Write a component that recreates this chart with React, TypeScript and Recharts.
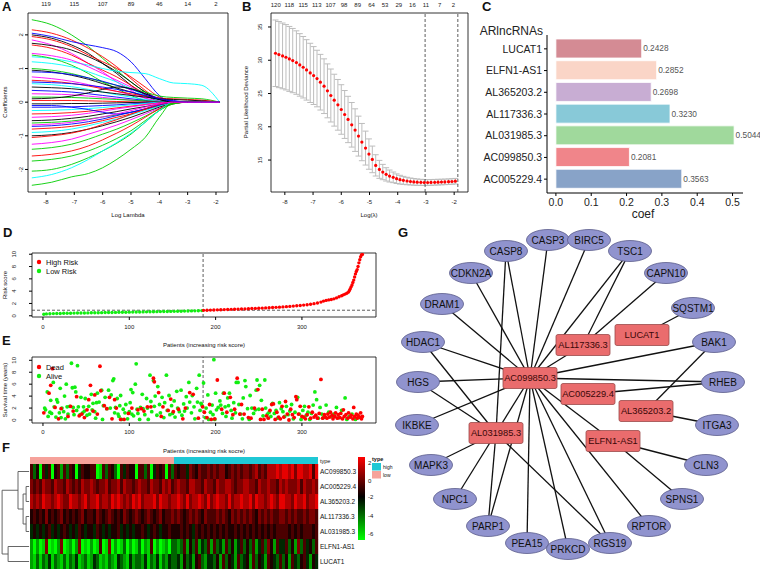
import React from 'react';
import {
  LineChart,
  Line,
  XAxis,
  YAxis,
  ReferenceArea,
  ReferenceLine,
  ScatterChart,
  Scatter,
  ErrorBar,
  BarChart,
  Bar,
  Cell,
  LabelList,
} from 'recharts';

const FONT = '"Liberation Sans", Arial, sans-serif';
const TICK = { fontSize: 6, fill: '#222', fontFamily: FONT };

// ---------- A: lasso coefficient paths ----------
const lassoLogLambda = [-8.5, -7.8, -7.1, -6.5, -6.0, -5.5, -5.0, -4.5, -4.0, -3.5, -3.0, -2.5, -1.87];
// trailing zeros left out (coefficient already shrunk to 0)
const lassoPaths: number[][] = [
  [2.45, 2.3, 2.0, 1.65, 1.3, 0.95, 0.6, 0.3, 0.05],
  [2.15, 2.05, 1.85, 1.6, 1.35, 1.05, 0.7, 0.35, 0.08],
  [2.05, 1.95, 1.8, 1.7, 1.62, 1.5, 1.2, 0.7, 0.2],
  [2.0, 1.9, 1.7, 1.45, 1.15, 0.85, 0.5, 0.22, 0.03],
  [1.95, 1.85, 1.65, 1.4, 1.2, 1.0, 0.75, 0.45, 0.15, 0.02],
  [1.85, 1.7, 1.45, 1.15, 0.9, 0.6, 0.35, 0.12],
  [1.75, 1.68, 1.55, 1.35, 1.15, 0.9, 0.6, 0.3, 0.08],
  [1.7, 1.6, 1.4, 1.15, 0.95, 0.75, 0.5, 0.25, 0.05],
  [1.35, 1.3, 1.2, 1.1, 1.0, 0.92, 0.88, 0.85, 0.7, 0.57, 0.55, 0.5, 0],
  [1.4, 1.3, 1.1, 0.85, 0.6, 0.4, 0.2, 0.05],
  [1.45, 1.38, 1.25, 1.05, 0.85, 0.65, 0.45, 0.25, 0.1, 0.02],
  [1.2, 1.15, 1.05, 0.9, 0.75, 0.6, 0.4, 0.2, 0.05],
  [1.0, 0.95, 0.85, 0.72, 0.6, 0.5, 0.4, 0.3, 0.18, 0.14, 0.12, 0.1, 0],
  [0.95, 0.9, 0.8, 0.68, 0.55, 0.42, 0.3, 0.18, 0.08, 0.02],
  [0.9, 0.88, 0.82, 0.72, 0.62, 0.5, 0.38, 0.25, 0.12, 0.05],
  [0.75, 0.7, 0.62, 0.52, 0.42, 0.32, 0.22, 0.12, 0.03],
  [0.65, 0.62, 0.56, 0.48, 0.4, 0.32, 0.25, 0.18, 0.12, 0.1, 0.08, 0.06, 0],
  [0.55, 0.52, 0.46, 0.38, 0.3, 0.22, 0.15, 0.08, 0.02],
  [0.45, 0.43, 0.4, 0.35, 0.3, 0.25, 0.2, 0.15, 0.1, 0.08, 0.06, 0.04, 0],
  [0.35, 0.33, 0.3, 0.25, 0.2, 0.15, 0.1, 0.05],
  [0.25, 0.24, 0.22, 0.18, 0.14, 0.1, 0.06, 0.03],
  [0.15, 0.15, 0.14, 0.12, 0.1, 0.08, 0.06, 0.04, 0.02],
  [0.05, 0.05, 0.05, 0.04, 0.03, 0.02, 0.01],
  [-0.05, -0.05, -0.04, -0.04, -0.03, -0.02, -0.01],
  [-0.15, -0.15, -0.14, -0.12, -0.1, -0.08, -0.05, -0.03],
  [-0.25, -0.24, -0.22, -0.19, -0.16, -0.12, -0.08, -0.04],
  [-0.35, -0.34, -0.31, -0.27, -0.22, -0.17, -0.12, -0.07, -0.02],
  [-0.45, -0.43, -0.39, -0.33, -0.27, -0.2, -0.14, -0.08, -0.03],
  [-0.55, -0.53, -0.48, -0.42, -0.35, -0.28, -0.2, -0.13, -0.06],
  [-0.62, -0.6, -0.56, -0.5, -0.44, -0.38, -0.3, -0.22, -0.12, -0.05],
  [-0.72, -0.7, -0.65, -0.58, -0.5, -0.4, -0.3, -0.2, -0.1, -0.02],
  [-0.8, -0.77, -0.72, -0.64, -0.55, -0.45, -0.35, -0.22, -0.1],
  [-0.9, -0.87, -0.8, -0.7, -0.6, -0.5, -0.38, -0.25, -0.12, -0.03],
  [-1.0, -0.97, -0.9, -0.8, -0.7, -0.58, -0.45, -0.3, -0.15, -0.04],
  [-1.25, -1.2, -1.1, -0.95, -0.82, -0.68, -0.52, -0.35, -0.18, -0.05],
  [-1.4, -1.35, -1.25, -1.1, -0.95, -0.8, -0.62, -0.42, -0.2, -0.05],
  [-1.6, -1.55, -1.45, -1.3, -1.12, -0.92, -0.7, -0.45, -0.2, -0.03],
  [-1.75, -1.7, -1.6, -1.45, -1.28, -1.08, -0.85, -0.55, -0.25, -0.05],
  [-2.05, -2.0, -1.85, -1.65, -1.45, -1.22, -0.95, -0.6, -0.25, -0.03],
  [-2.25, -2.15, -1.95, -1.7, -1.45, -1.2, -0.92, -0.6, -0.25],
  [-2.47, -2.38, -2.22, -2.12, -1.95, -1.7, -1.4, -1.05, -0.45],
  [-0.1, -0.1, -0.15, -0.22, -0.3, -0.35, -0.3, -0.2, -0.08],
  [0.1, 0.12, 0.18, 0.28, 0.38, 0.45, 0.4, 0.25, 0.08],
  [-1.05, -1.0, -0.92, -0.8, -0.66, -0.52, -0.36, -0.2, -0.06],
  [0.6, 0.58, 0.55, 0.5, 0.45, 0.38, 0.3, 0.2, 0.1, 0.03],
  [-0.68, -0.65, -0.6, -0.52, -0.44, -0.35, -0.25, -0.15, -0.05],
];
const lassoColors = [
  '#00CD00', '#FF0000', '#0000FF', '#000000', '#FF0000', '#FF00FF', '#000000', '#FF0000',
  '#00FFFF', '#00CD00', '#FF00FF', '#00FFFF', '#00CD00', '#000000', '#0000FF', '#FF00FF',
  '#FF0000', '#00FFFF', '#000000', '#0000FF', '#FF00FF', '#00CD00', '#FF0000', '#000000',
  '#0000FF', '#00FFFF', '#FF0000', '#FF00FF', '#000000', '#00CD00', '#0000FF', '#FF0000',
  '#00FFFF', '#000000', '#FF00FF', '#00CD00', '#FF0000', '#00CD00', '#00CD00', '#00FFFF',
  '#00CD00', '#0000FF', '#000000', '#FF0000', '#0000FF', '#FF00FF',
];
const lassoTicks = [-8, -7, -6, -5, -4, -3, -2];
const lassoTopLabels = ['119', '115', '107', '89', '46', '14', '2'];

// ---------- B: cross-validation curve ----------
const cvLogLambda = [
  -8.33, -8.21, -8.08, -7.96, -7.84, -7.72, -7.59, -7.47, -7.35, -7.23, -7.1, -6.98, -6.86, -6.74,
  -6.61, -6.49, -6.37, -6.25, -6.12, -6.0, -5.88, -5.76, -5.63, -5.51, -5.39, -5.27, -5.14, -5.02,
  -4.9, -4.78, -4.65, -4.53, -4.41, -4.29, -4.16, -4.04, -3.92, -3.8, -3.67, -3.55, -3.43, -3.31,
  -3.18, -3.06, -2.94, -2.82, -2.69, -2.57, -2.45, -2.33, -2.2, -2.08, -1.96,
];
const cvDeviance = [
  31.05, 30.85, 30.65, 30.45, 30.2, 29.95, 29.65, 29.3, 28.95, 28.55, 28.1, 27.7, 27.25, 26.7,
  26.1, 25.4, 24.7, 24.0, 23.3, 22.6, 21.85, 21.1, 20.3, 19.5, 18.6, 17.7, 16.8, 15.9,
  15.1, 14.2, 13.6, 13.2, 12.85, 12.6, 12.4, 12.2, 12.05, 11.95, 11.85, 11.78, 11.72, 11.68,
  11.65, 11.63, 11.63, 11.64, 11.66, 11.68, 11.7, 11.72, 11.75, 11.78, 11.82,
];
const cvError = [
  5.0, 4.97, 4.94, 4.91, 4.88, 4.83, 4.77, 4.7, 4.62, 4.54, 4.45, 4.35, 4.25, 4.18,
  4.11, 4.05, 3.98, 3.9, 3.81, 3.72, 3.6, 3.48, 3.35, 3.2, 3.0, 2.8, 2.55, 2.28,
  2.0, 1.6, 1.35, 1.15, 1.0, 0.9, 0.8, 0.72, 0.66, 0.6, 0.56, 0.52, 0.5, 0.48,
  0.46, 0.45, 0.44, 0.44, 0.43, 0.43, 0.42, 0.42, 0.42, 0.42, 0.42,
];
const cvTopTicks = [-8.32, -7.84, -7.35, -6.87, -6.38, -5.9, -5.42, -4.93, -4.45, -3.96, -3.48, -3.0, -2.51, -2.03];
const cvTopLabels = ['120', '118', '115', '113', '107', '98', '89', '64', '53', '29', '16', '11', '7', '2'];
const cvLambdaMin = -3.03;
const cvLambda1se = -1.87;

// ---------- C: coefficients ----------
const coefNames = ['LUCAT1', 'ELFN1-AS1', 'AL365203.2', 'AL117336.3', 'AL031985.3', 'AC099850.3', 'AC005229.4'];
const coefValues = [0.2428, 0.2852, 0.2698, 0.323, 0.5044, 0.2081, 0.3563];
const coefColors = ['#D48B94', '#FAD5C7', '#C8ADD3', '#88C9D8', '#A0D99C', '#F0858A', '#88A3C8'];

// ---------- D: risk score ----------
const riskLow: [number, number][] = [
  [1, 0.25], [4, 0.3], [8, 0.33], [12, 0.35], [16, 0.37], [20, 0.38], [24, 0.4], [28, 0.41],
  [32, 0.42], [36, 0.43], [40, 0.44], [44, 0.45], [48, 0.46], [52, 0.47], [56, 0.48], [60, 0.49],
  [64, 0.5], [68, 0.51], [72, 0.52], [76, 0.53], [80, 0.54], [84, 0.55], [88, 0.56], [92, 0.57],
  [96, 0.58], [100, 0.59], [104, 0.6], [108, 0.61], [112, 0.62], [116, 0.63], [120, 0.64], [124, 0.65],
  [128, 0.66], [132, 0.67], [136, 0.68], [140, 0.69], [144, 0.7], [148, 0.71], [152, 0.72], [156, 0.73],
  [160, 0.74], [164, 0.76], [168, 0.77], [172, 0.79], [176, 0.8], [180, 0.82], [184, 0.84],
];
const riskHigh: [number, number][] = [
  [186, 0.88], [190, 0.9], [194, 0.92], [198, 0.94], [202, 0.96], [206, 0.98], [210, 1.0], [214, 1.02],
  [218, 1.04], [222, 1.06], [226, 1.08], [230, 1.1], [234, 1.12], [238, 1.15], [242, 1.17], [246, 1.2],
  [250, 1.22], [254, 1.25], [258, 1.28], [262, 1.31], [266, 1.34], [270, 1.37], [274, 1.4], [278, 1.44],
  [282, 1.48], [286, 1.52], [290, 1.57], [294, 1.62], [298, 1.67], [302, 1.73], [306, 1.8], [310, 1.88],
  [314, 1.97], [318, 2.08], [322, 2.22], [325, 2.38], [328, 2.5], [331, 2.58], [334, 2.65], [337, 2.75],
  [340, 2.9], [343, 3.08], [346, 3.25], [348, 3.4], [350, 3.52], [352, 3.65], [354, 3.85], [355, 4.1],
  [356, 4.4], [357, 4.7], [358, 5.0], [359, 5.4], [360, 5.8], [361, 6.3], [362, 6.8], [363, 7.2],
  [364, 7.5], [365, 8.0], [366, 8.6], [367, 9.1], [368, 9.6], [369, 9.9], [370, 9.95],
];
const riskCut = 185.5;
const riskCutScore = 0.9;

// ---------- E: survival status ----------
const alivePoints: [number, number][] = [
  [2, 2.0], [3, 1.7], [5, 4.7], [6, 0.6], [8, 1.3], [9, 3.3], [10, 1.1], [12, 6.3], [13, 2.2], [15, 0.5],
  [16, 3.4], [17, 3.0], [19, 1.2], [20, 5.3], [21, 0.4], [22, 2.0], [24, 1.4], [25, 4.0], [26, 0.2], [27, 6.0],
  [28, 2.2], [29, 1.0], [31, 2.3], [33, 9.5], [34, 5.4], [35, 2.1], [36, 0.9], [37, 5.5], [38, 4.7], [39, 1.6],
  [40, 9.1], [41, 2.2], [43, 0.9], [44, 3.8], [46, 1.2], [47, 2.2], [48, 1.5], [49, 3.6], [51, 0.8], [53, 2.3],
  [54, 1.0], [56, 4.3], [57, 1.7], [58, 2.8], [60, 1.4], [61, 0.3], [62, 2.9], [63, 4.5], [65, 3.0], [68, 5.0],
  [69, 0.1], [70, 2.4], [72, 3.8], [74, 1.9], [76, 5.0], [78, 2.0], [79, 4.2], [81, 6.6], [82, 6.9], [83, 1.2],
  [84, 2.1], [86, 3.6], [87, 1.0], [88, 0.6], [89, 2.4], [90, 4.1], [91, 0.1], [93, 1.8], [95, 1.2], [96, 2.6],
  [98, 0.2], [100, 1.4], [101, 2.9], [102, 5.1], [103, 1.0], [104, 4.6], [105, 0.7], [107, 6.0], [108, 9.4], [109, 1.8],
  [110, 1.1], [112, 0.1], [113, 2.1], [115, 4.3], [116, 1.9], [118, 0.9], [120, 3.6], [121, 2.0], [122, 0.1], [124, 7.5],
  [125, 3.1], [126, 1.4], [128, 6.6], [129, 2.3], [130, 4.0], [132, 0.8], [133, 5.6], [135, 2.6], [136, 1.2], [138, 3.8],
  [140, 0.4], [141, 2.9], [143, 7.5], [144, 1.6], [146, 4.1], [147, 0.9], [149, 2.4], [150, 1.1], [152, 3.2], [153, 0.5],
  [155, 4.8], [156, 2.0], [158, 1.4], [160, 5.0], [161, 0.8], [163, 2.7], [164, 1.5], [166, 3.9], [167, 2.0], [169, 6.3],
  [170, 3.0], [172, 1.2], [173, 4.1], [175, 2.2], [176, 0.2], [178, 5.3], [179, 3.0], [181, 7.5], [182, 1.6], [183, 2.8],
  [184, 2.5], [186, 6.2], [188, 0.4], [189, 2.0], [191, 4.2], [192, 0.1], [194, 1.3], [196, 2.5], [197, 0.9], [198, 10.1],
  [199, 0.1], [200, 4.5], [201, 1.7], [203, 2.1], [205, 3.2], [206, 2.5], [208, 1.1], [209, 4.5], [211, 2.2], [212, 0.6],
  [214, 3.7], [215, 2.4], [216, 4.5], [218, 1.6], [219, 0.3], [221, 2.9], [223, 1.2], [224, 6.3], [226, 6.3], [227, 2.6],
  [229, 1.0], [231, 0.2], [232, 3.7], [234, 6.6], [235, 5.6], [237, 1.9], [239, 0.1], [240, 4.1], [242, 2.0], [244, 1.1],
  [246, 1.7], [247, 5.0], [248, 6.7], [250, 1.8], [251, 5.8], [253, 3.3], [255, 0.7], [257, 6.7], [258, 2.0], [260, 1.0],
  [262, 1.3], [264, 0.6], [266, 2.8], [268, 1.1], [270, 1.6], [272, 0.3], [274, 2.9], [276, 1.9], [278, 1.4], [280, 0.6],
  [282, 2.3], [284, 0.9], [286, 1.5], [288, 2.6], [290, 0.2], [292, 1.3], [295, 3.8], [297, 1.0], [299, 0.1], [301, 1.6],
  [303, 2.3], [305, 0.8], [307, 1.3], [309, 0.1], [311, 1.1], [313, 2.5], [315, 4.7], [317, 3.4], [319, 0.3], [321, 2.1],
  [323, 1.0], [325, 0.4], [328, 2.5], [331, 1.3], [334, 0.6], [337, 1.0], [340, 2.1], [343, 0.4], [346, 1.6], [350, 3.7],
  [352, 0.1], [355, 0.6], [358, 1.0], [362, 0.1], [366, 0.4],
];
const deadPoints: [number, number][] = [
  [1, 1.2], [7, 4.5], [9, 5.8], [11, 8.6], [14, 2.1], [18, 0.2], [21, 1.9], [29, 0.6], [32, 2.3], [35, 1.5],
  [39, 3.9], [42, 0.7], [45, 1.0], [48, 0.4], [51, 1.7], [53, 3.4], [55, 5.8], [58, 1.5], [60, 4.2], [63, 1.0],
  [66, 9.0], [67, 4.9], [71, 2.4], [74, 1.9], [77, 3.8], [80, 0.2], [83, 3.4], [85, 2.0], [90, 0.1], [94, 0.1],
  [99, 1.1], [103, 2.0], [110, 1.7], [114, 1.9], [117, 1.5], [121, 2.2], [125, 2.2], [128, 7.0], [129, 6.4], [134, 4.6],
  [137, 0.6], [139, 2.2], [145, 1.6], [148, 3.5], [151, 1.4], [157, 1.8], [162, 0.2], [165, 2.0], [170, 4.6], [174, 4.3],
  [180, 0.3], [185, 2.2], [187, 1.3], [190, 0.4], [193, 2.6], [195, 0.1], [199, 0.2], [202, 6.7], [207, 1.8], [210, 4.5],
  [213, 1.3], [217, 3.8], [220, 0.9], [222, 1.8], [225, 7.0], [228, 1.0], [230, 2.6], [233, 1.0], [238, 0.4], [241, 0.3],
  [245, 2.0], [249, 5.1], [252, 0.1], [254, 1.8], [256, 0.1], [259, 0.7], [261, 0.3], [263, 1.6], [265, 2.6], [267, 2.7],
  [269, 0.1], [271, 1.3], [273, 0.5], [275, 0.2], [277, 2.3], [279, 0.5], [281, 3.1], [283, 1.0], [285, 0.0], [287, 1.8],
  [289, 0.9], [291, 0.4], [293, 3.9], [294, 3.4], [296, 1.0], [298, 2.3], [300, 0.6], [302, 0.5], [304, 0.2], [306, 0.9],
  [308, 2.2], [310, 0.3], [312, 1.3], [314, 0.5], [316, 0.8], [318, 0.3], [320, 1.1], [322, 6.8], [324, 0.3], [326, 0.9],
  [327, 0.5], [329, 0.3], [330, 1.0], [332, 0.5], [333, 1.3], [335, 0.8], [336, 0.2], [338, 0.6], [339, 1.2], [341, 0.3],
  [342, 0.9], [344, 0.4], [345, 1.1], [347, 0.2], [348, 1.7], [349, 0.6], [351, 0.9], [353, 0.3], [354, 1.2], [356, 0.5],
  [357, 0.8], [359, 0.2], [360, 2.1], [361, 0.6], [363, 1.0], [364, 0.3], [365, 0.8], [367, 0.5], [368, 1.2], [369, 0.2],
  [370, 0.6],
];

// ---------- F: heatmap ----------
const heatRowNames = ['AC099850.3', 'AC005229.4', 'AL365203.2', 'AL117336.3', 'AL031985.3', 'ELFN1-AS1', 'LUCAT1'];
// one digit per patient group, 0 = low (green) ... 9 = high (red)
const heatRows = [
  ['635064605626', '365046556601', '636530646550', '663604656063', '656647657667', '676775676767', '767867688898', '998979988969'],
  ['767687768776', '876768778767', '786778687767', '877687768786', '787768877687', '768778876778', '877687787768', '787778687787'],
  ['878798878987', '798878978897', '887989878798', '978889798878', '898797889879', '789887978898', '897988789879', '988798897889'],
  ['565657565675', '656567566576', '567656576567', '656765675667', '676567676576', '667676576767', '676576767667', '767676676776'],
  ['454545645456', '545465455465', '454556454545', '565456545565', '556565465656', '565656556565', '656565656566', '665656566656'],
  ['202017010270', '120270102016', '017020130201', '302160201203', '323625362436', '263426352463', '536246375264', '463527364536'],
  ['213132413213', '132412312431', '213214321423', '324132413243', '342534256324', '435263542634', '526354265436', '352643564254'],
];
const heatPalette = ['#00FF00', '#00D200', '#00A000', '#006400', '#002800', '#1E0000', '#4B0000', '#7D0000', '#B00000', '#E60000'];
const heatLowCount = 48;
// dendrogram merges: [join height, y of child A, height of A, y of child B, height of B]
const dendroMerges: number[][] = [
  [-1.3, 1, -0.3, 2, -0.3],
  [-1.3, 3, -0.3, 4, -0.3],
  [-2.3, 1.5, -1.3, 3.5, -1.3],
  [-4.0, 0, -0.3, 2.5, -2.3],
  [-7.3, 5, -0.3, 6, -0.3],
  [-9.3, 1.25, -4.0, 5.5, -7.3],
];

// ---------- G: network ----------
const geneNames = ['CASP3', 'BIRC5', 'CASP8', 'TSC1', 'CDKN2A', 'CAPN10', 'DRAM1', 'SQSTM1', 'HDAC1', 'BAK1', 'HGS', 'RHEB', 'IKBKE', 'ITGA3', 'MAPK3', 'CLN3', 'NPC1', 'SPNS1', 'PARP1', 'RPTOR', 'PEA15', 'PRKCD', 'RGS19'];
const geneX = [158, 199, 116, 240, 81, 276, 52, 303, 33, 324, 28, 333, 27, 327, 41, 316, 65, 292, 98, 259, 137, 178, 220];
const geneY = [25, 25, 36, 36, 58, 58, 89, 93, 127, 127, 167, 167, 210, 210, 250, 250, 284, 284, 311, 311, 328, 334, 328];
const lncNames = ['LUCAT1', 'AL117336.3', 'AC099850.3', 'AC005229.4', 'AL365203.2', 'AL031985.3', 'ELFN1-AS1'];
const lncX = [252, 193, 140, 198, 256, 106, 223];
const lncY = [120, 130, 163, 179, 196, 218, 226];
const netEdges: [string, string][] = [
  ['AC099850.3', 'CASP8'], ['AC099850.3', 'CASP3'], ['AC099850.3', 'BIRC5'], ['AC099850.3', 'TSC1'],
  ['AC099850.3', 'CDKN2A'], ['AC099850.3', 'DRAM1'], ['AC099850.3', 'HDAC1'], ['AC099850.3', 'HGS'],
  ['AC099850.3', 'IKBKE'], ['AC099850.3', 'BAK1'], ['AC099850.3', 'RHEB'], ['AC099850.3', 'AL117336.3'],
  ['AC099850.3', 'AL031985.3'], ['AC099850.3', 'PARP1'], ['AC099850.3', 'PEA15'], ['AC099850.3', 'PRKCD'],
  ['AC099850.3', 'RGS19'], ['AC099850.3', 'RPTOR'], ['AC099850.3', 'ELFN1-AS1'],
  ['AL117336.3', 'TSC1'], ['AL117336.3', 'CAPN10'], ['LUCAT1', 'SQSTM1'],
  ['AL365203.2', 'BAK1'], ['AL365203.2', 'ITGA3'], ['AC005229.4', 'RHEB'],
  ['AL031985.3', 'CASP8'], ['AL031985.3', 'HDAC1'], ['AL031985.3', 'HGS'], ['AL031985.3', 'MAPK3'],
  ['AL031985.3', 'NPC1'], ['AL031985.3', 'PARP1'], ['AL031985.3', 'RGS19'],
  ['ELFN1-AS1', 'CLN3'], ['ELFN1-AS1', 'SPNS1'],
];

// ---------- built tables ----------
const lassoTable = lassoLogLambda.map((l, i) => {
  const row: Record<string, number> = { l };
  lassoPaths.forEach((p, k) => {
    row['c' + k] = p[i] ?? 0;
  });
  return row;
});
const cvTable = cvLogLambda.map((x, i) => ({ x, y: cvDeviance[i], err: cvError[i] }));
const coefTable = coefNames.map((name, i) => ({ name, coef: coefValues[i] }));
const toXY = (arr: [number, number][]) => arr.map(([x, y]) => ({ x, y }));
const heatCells = heatRows.flatMap((segs, r) =>
  segs.join('').split('').map((ch, c) => ({ x: c + 0.5, y: r, level: Number(ch) })),
);
const heatCols = heatCells.length / heatRows.length;
const nodes = [
  ...geneNames.map((name, i) => ({ name, x: geneX[i], y: geneY[i], lnc: false })),
  ...lncNames.map((name, i) => ({ name, x: lncX[i], y: lncY[i], lnc: true })),
];
const nodeByName: Record<string, { x: number; y: number }> = {};
nodes.forEach((n) => (nodeByName[n.name] = n));

const RotTick = (props: any) => {
  const { x, y, payload } = props;
  return (
    <text x={x} y={y} transform={`rotate(-90 ${x} ${y})`} textAnchor="middle" fontSize={6} fill="#222" fontFamily={FONT}>
      {payload.value}
    </text>
  );
};

const dot = (r: number, fill: string) => (p: any) => <circle cx={p.cx} cy={p.cy} r={r} fill={fill} />;
const noShape = () => <g />;

const abs = (left: number, top: number): React.CSSProperties => ({ position: 'absolute', left, top });

const Txt = ({ x, y, size = 6, anchor = 'middle', rot = false, bold = false, fill = '#111', children }: any) => (
  <text
    x={x}
    y={y}
    fontSize={size}
    textAnchor={anchor}
    fontWeight={bold ? 'bold' : 'normal'}
    fill={fill}
    fontFamily={FONT}
    transform={rot ? `rotate(-90 ${x} ${y})` : undefined}
  >
    {children}
  </text>
);

const NetNode = (p: any) => {
  const { cx, cy, payload } = p;
  if (payload.lnc) {
    return (
      <g>
        <rect x={cx - 27} y={cy - 10.5} width={54} height={21} rx={2} fill="#EA6C6D" stroke="#9A4A4A" strokeWidth={0.8} />
        <text x={cx} y={cy + 3.3} textAnchor="middle" fontSize={9.3} fill="#3A0808" fontFamily={FONT}>
          {payload.name}
        </text>
      </g>
    );
  }
  return (
    <g>
      <ellipse cx={cx} cy={cy} rx={21.5} ry={10.5} fill="#9093CE" stroke="#5A5C8A" strokeWidth={0.8} />
      <text x={cx} y={cy + 3.5} textAnchor="middle" fontSize={10} fill="#111" fontFamily={FONT}>
        {payload.name}
      </text>
    </g>
  );
};

const App = () => {
  return (
    <div style={{ position: 'absolute', left: 0, top: 0, width: 760, height: 571, background: '#fff', overflow: 'hidden', fontFamily: FONT }}>
      {/* A */}
      <div style={abs(0, 0)}>
        <LineChart width={235} height={222} data={lassoTable} margin={{ top: 0, right: 7, bottom: 0, left: 0 }}>
          <XAxis dataKey="l" type="number" domain={[-8.635, -1.576]} ticks={lassoTicks} interval={0} allowDataOverflow height={30} tickSize={3} tickMargin={5} axisLine={false} stroke="#000" tick={TICK} />
          <XAxis xAxisId="top" orientation="top" dataKey="l" type="number" domain={[-8.635, -1.576]} ticks={lassoTicks} interval={0} allowDataOverflow height={13} tickSize={0} tickMargin={7} tickLine={false} axisLine={false} tick={TICK} tickFormatter={(v: number) => lassoTopLabels[lassoTicks.indexOf(v)]} />
          <YAxis type="number" domain={[-2.67, 2.65]} ticks={[-2, -1, 0, 1, 2]} interval={0} allowDataOverflow width={28} tickSize={3} tickMargin={2} axisLine={false} stroke="#000" tick={<RotTick />} />
          {lassoPaths.map((_, k) => (
            <Line key={k} dataKey={'c' + k} type="monotone" stroke={lassoColors[k]} strokeWidth={0.9} dot={false} isAnimationActive={false} />
          ))}
          <ReferenceArea x1={-8.635} x2={-1.576} y1={-2.67} y2={2.65} fill="none" stroke="#000" strokeWidth={0.8} ifOverflow="visible" />
        </LineChart>
      </div>

      {/* B */}
      <div style={abs(243, 0)}>
        <ScatterChart width={232} height={222} margin={{ top: 0, right: 7, bottom: 0, left: 0 }}>
          <XAxis dataKey="x" type="number" domain={[-8.49, -1.51]} ticks={lassoTicks} interval={0} allowDataOverflow height={30} tickSize={3} tickMargin={5} axisLine={false} stroke="#000" tick={TICK} />
          <XAxis xAxisId="top" orientation="top" dataKey="x" type="number" domain={[-8.49, -1.51]} ticks={cvTopTicks} interval={0} allowDataOverflow height={13} tickSize={0} tickMargin={6} tickLine={false} axisLine={false} tick={TICK} tickFormatter={(v: number) => cvTopLabels[cvTopTicks.indexOf(v)]} />
          <YAxis dataKey="y" type="number" domain={[10.2, 37.1]} ticks={[15, 20, 25, 30, 35]} interval={0} allowDataOverflow width={28} tickSize={3} tickMargin={6} axisLine={false} stroke="#000" tick={<RotTick />} />
          <Scatter data={cvTable} shape={dot(1.6, '#FF0000')} isAnimationActive={false}>
            <ErrorBar dataKey="err" direction="y" width={3} stroke="#BDBDBD" strokeWidth={1} />
          </Scatter>
          <ReferenceLine x={cvLambdaMin} stroke="#333" strokeDasharray="3 2" strokeWidth={0.8} />
          <ReferenceLine x={cvLambda1se} stroke="#333" strokeDasharray="3 2" strokeWidth={0.8} />
          <ReferenceArea x1={-8.49} x2={-1.51} y1={10.2} y2={37.1} fill="none" stroke="#000" strokeWidth={0.8} ifOverflow="visible" />
        </ScatterChart>
      </div>

      {/* C */}
      <div style={abs(470, 0)}>
        <BarChart width={290} height={225} data={coefTable} layout="vertical" margin={{ top: 35, right: 17, bottom: 0, left: 0 }}>
          <XAxis type="number" domain={[-0.0252, 0.5296]} ticks={[0, 0.1, 0.2, 0.3, 0.4, 0.5]} interval={0} allowDataOverflow height={32} tickSize={3} tickMargin={3} stroke="#000" tick={{ fontSize: 10.5, fill: '#222', fontFamily: FONT }} tickFormatter={(v: number) => v.toFixed(1)} />
          <YAxis type="category" dataKey="name" width={77} tickSize={3} tickMargin={2} stroke="#000" interval={0} padding={{ top: 3, bottom: 3 }} tick={{ fontSize: 10.5, fill: '#222', fontFamily: FONT }} />
          <Bar dataKey="coef" barSize={19} stroke="#FFFFFF" strokeWidth={0.8} isAnimationActive={false}>
            {coefTable.map((d, i) => (
              <Cell key={d.name} fill={coefColors[i]} />
            ))}
            <LabelList dataKey="coef" position="right" offset={1.5} formatter={(v: any) => Number(v).toFixed(4)} style={{ fontSize: 8.3, fill: '#555', fontFamily: FONT }} />
          </Bar>
        </BarChart>
      </div>

      {/* D */}
      <div style={abs(0, 240)}>
        <ScatterChart width={384} height={95} margin={{ top: 13, right: 8, bottom: 0, left: 0 }}>
          <XAxis dataKey="x" type="number" domain={[-12.7, 385.8]} ticks={[0, 100, 200, 300]} interval={0} allowDataOverflow height={18} tickSize={3} tickMargin={5} axisLine={false} stroke="#000" tick={TICK} />
          <YAxis dataKey="y" type="number" domain={[-0.2, 10.2]} ticks={[0, 2, 4, 6, 8, 10]} interval={0} allowDataOverflow width={32} tickSize={3} tickMargin={13} axisLine={false} stroke="#000" tick={<RotTick />} />
          <Scatter data={toXY(riskLow)} shape={dot(1.7, '#11EE11')} isAnimationActive={false} />
          <Scatter data={toXY(riskHigh)} shape={dot(1.7, '#FF0000')} isAnimationActive={false} />
          <ReferenceLine x={riskCut} stroke="#333" strokeDasharray="3 2" strokeWidth={0.8} />
          <ReferenceLine y={riskCutScore} stroke="#333" strokeDasharray="3 2" strokeWidth={0.8} />
          <ReferenceArea x1={-12.7} x2={385.8} y1={-0.2} y2={10.2} fill="none" stroke="#000" strokeWidth={0.8} ifOverflow="visible" />
        </ScatterChart>
      </div>

      {/* E */}
      <div style={abs(0, 345)}>
        <ScatterChart width={384} height={94} margin={{ top: 12, right: 8, bottom: 0, left: 0 }}>
          <XAxis dataKey="x" type="number" domain={[-12.7, 385.8]} ticks={[0, 100, 200, 300]} interval={0} allowDataOverflow height={16} tickSize={3} tickMargin={4} axisLine={false} stroke="#000" tick={TICK} />
          <YAxis dataKey="y" type="number" domain={[-0.5, 10.55]} ticks={[0, 2, 4, 6, 8, 10]} interval={0} allowDataOverflow width={32} tickSize={3} tickMargin={13} axisLine={false} stroke="#000" tick={<RotTick />} />
          <Scatter data={toXY(alivePoints)} shape={dot(1.9, '#11EE11')} isAnimationActive={false} />
          <Scatter data={toXY(deadPoints)} shape={dot(1.9, '#FF0000')} isAnimationActive={false} />
          <ReferenceLine x={riskCut} stroke="#333" strokeDasharray="3 2" strokeWidth={0.8} />
          <ReferenceArea x1={-12.7} x2={385.8} y1={-0.5} y2={10.55} fill="none" stroke="#000" strokeWidth={0.8} ifOverflow="visible" />
        </ScatterChart>
      </div>

      {/* F */}
      <div style={abs(0, 455)}>
        <ScatterChart width={330} height={114} margin={{ top: 0, right: 0, bottom: 0, left: 0 }}>
          <XAxis dataKey="x" type="number" domain={[-10, 100]} allowDataOverflow hide />
          <YAxis dataKey="y" type="number" domain={[-1.1, 6.5]} allowDataOverflow reversed hide />
          <ReferenceArea x1={0} x2={heatLowCount} y1={-0.97} y2={-0.5} fill="#F6A29B" fillOpacity={1} stroke="none" />
          <ReferenceArea x1={heatLowCount} x2={heatCols} y1={-0.97} y2={-0.5} fill="#1FC8D5" fillOpacity={1} stroke="none" />
          <Scatter
            data={heatCells}
            isAnimationActive={false}
            shape={(p: any) => <rect x={p.cx - 1.5} y={p.cy - 7.5} width={3.2} height={15.2} fill={heatPalette[p.payload.level]} />}
          />
          {dendroMerges.map(([h, ya, xa, yb, xb], i) => (
            <Scatter
              key={i}
              data={[
                { x: xa, y: ya },
                { x: h, y: ya },
                { x: h, y: yb },
                { x: xb, y: yb },
              ]}
              line={{ stroke: '#555', strokeWidth: 0.9 }}
              shape={noShape}
              isAnimationActive={false}
            />
          ))}
        </ScatterChart>
      </div>

      {/* G */}
      <div style={abs(390, 215)}>
        <ScatterChart width={370} height={356} margin={{ top: 0, right: 0, bottom: 0, left: 0 }}>
          <XAxis dataKey="x" type="number" domain={[0, 370]} allowDataOverflow hide />
          <YAxis dataKey="y" type="number" domain={[0, 356]} allowDataOverflow reversed hide />
          {netEdges.map(([a, b], i) => (
            <Scatter
              key={i}
              data={[nodeByName[a], nodeByName[b]]}
              line={{ stroke: '#111', strokeWidth: 1.3 }}
              shape={noShape}
              isAnimationActive={false}
            />
          ))}
          <Scatter data={nodes} shape={NetNode} isAnimationActive={false} />
        </ScatterChart>
      </div>

      {/* text overlay */}
      <svg width={760} height={571} style={{ position: 'absolute', left: 0, top: 0, pointerEvents: 'none' }}>
        <defs>
          <linearGradient id="heatScale" x1="0" y1="0" x2="0" y2="1">
            <stop offset="0%" stopColor="#FF0000" />
            <stop offset="48%" stopColor="#000000" />
            <stop offset="100%" stopColor="#00FF00" />
          </linearGradient>
        </defs>
        <Txt x={2} y={11} size={13} anchor="start" bold>A</Txt>
        <Txt x={242} y={11} size={13} anchor="start" bold>B</Txt>
        <Txt x={482} y={11} size={13} anchor="start" bold>C</Txt>
        <Txt x={3} y={237} size={13} anchor="start" bold>D</Txt>
        <Txt x={2} y={345} size={13} anchor="start" bold>E</Txt>
        <Txt x={2} y={452} size={13} anchor="start" bold>F</Txt>
        <Txt x={398} y={237} size={13} anchor="start" bold>G</Txt>

        <Txt x={7} y={102} rot>Coefficients</Txt>
        <Txt x={128} y={217}>Log Lambda</Txt>
        <Txt x={248} y={102} rot>Partial Likelihood Deviance</Txt>
        <Txt x={369} y={217}>Log(λ)</Txt>

        <Txt x={543} y={35} size={12} anchor="end" fill="#222">ARlncRNAs</Txt>
        <Txt x={643} y={218} size={12} fill="#222">coef</Txt>

        <Txt x={7} y={285} rot>Risk score</Txt>
        <Txt x={204} y={347}>Patients (increasing risk score)</Txt>
        <circle cx={39} cy={262} r={2.2} fill="#FF0000" />
        <circle cx={39} cy={271} r={2.2} fill="#11EE11" />
        <Txt x={46} y={264.7} size={7.5} anchor="start">High Risk</Txt>
        <Txt x={46} y={273.7} size={7.5} anchor="start">Low Risk</Txt>

        <Txt x={7} y={390} rot>Survival time (years)</Txt>
        <circle cx={39} cy={367} r={2.2} fill="#FF0000" />
        <circle cx={39} cy={376} r={2.2} fill="#11EE11" />
        <Txt x={46} y={369.7} size={7.5} anchor="start">Dead</Txt>
        <Txt x={46} y={378.7} size={7.5} anchor="start">Alive</Txt>
        <Txt x={204} y={453}>Patients (increasing risk socre)</Txt>

        <Txt x={320} y={463} size={5.5} anchor="start">type</Txt>
        {heatRowNames.map((n, i) => (
          <Txt key={n} x={320} y={474 + 15 * i} size={6.5} anchor="start">{n}</Txt>
        ))}
        <rect x={358} y={457} width={7} height={83} fill="url(#heatScale)" />
        <Txt x={368} y={465} size={6} anchor="start">2</Txt>
        <Txt x={368} y={483} size={6} anchor="start">0</Txt>
        <Txt x={368} y={499} size={6} anchor="start">-2</Txt>
        <Txt x={368} y={518} size={6} anchor="start">-4</Txt>
        <Txt x={368} y={536} size={6} anchor="start">-6</Txt>
        <Txt x={372} y={461} size={5.5} anchor="start" bold>type</Txt>
        <rect x={372} y={463} width={9} height={7.5} fill="#1FC8D5" />
        <rect x={372} y={471} width={9} height={7.5} fill="#F6A29B" />
        <Txt x={383} y={468.5} size={5} anchor="start">high</Txt>
        <Txt x={383} y={477} size={5} anchor="start">low</Txt>
      </svg>
    </div>
  );
};

export default App;
